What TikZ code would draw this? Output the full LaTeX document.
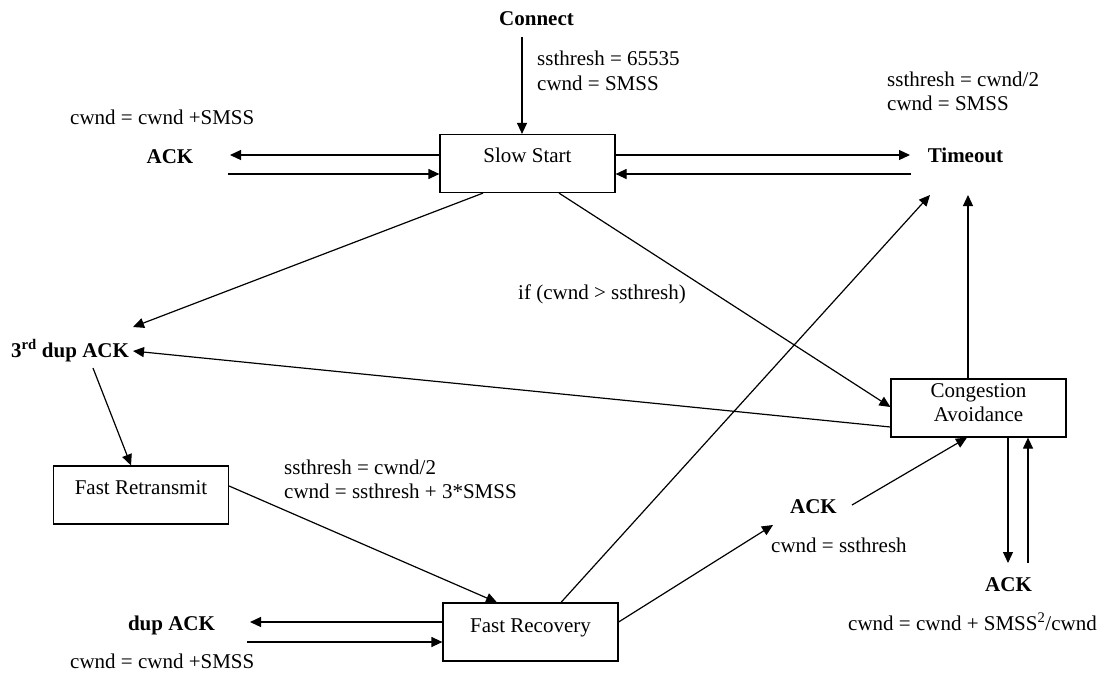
\documentclass[tikz,border=0pt]{standalone}
\usepackage{fontspec}
\setmainfont{Liberation Serif}
\usetikzlibrary{arrows.meta,calc}
\begin{document}
\begin{tikzpicture}[x=1pt,y=-1pt,
  every node/.style={font=\fontsize{21pt}{24pt}\selectfont, inner sep=0pt},
  state/.style={draw, line width=1.2pt, minimum width=175pt, minimum height=58pt},
  tx/.style={text height=14pt, text depth=0pt},
  event/.style={tx, font=\fontsize{21pt}{24pt}\selectfont\bfseries},
  note/.style={anchor=west, align=left},
  arr/.style={line width=1.2pt, -{Triangle[length=11pt,width=10pt]}}
]
\useasboundingbox (0,0) rectangle (1106,673);

% states
\node[state] (ss)  at (527.5,163.5) {};
\node[state] (ca)  at (978.5,408) {};
\node[state] (frt) at (141,495) {};
\node[state] (frc) at (530.5,632) {};
\node[tx] (ssT)  at (527.5,155) {Slow Start};
\node[align=center] (caT) at (978.5,403) {Congestion\\Avoidance};
\node[tx] (frtT) at (141,487) {Fast Retransmit};
\node[tx] (frcT) at (530.5,625) {Fast Recovery};

% events
\node[event] (connect) at (536.5,18) {Connect};
\node[event] (ackL)    at (170,156) {ACK};
\node[event] (timeout) at (965.5,155) {Timeout};
\node[event] (third)   at (70,350) {3\textsuperscript{rd} dup ACK};
\node[event] (dupack)  at (171.5,623) {dup ACK};
\node[event] (ackM)    at (813.5,506) {ACK};
\node[event] (ackR)    at (1008.5,584) {ACK};

% annotations
\node[note] (n1) at (537,70.5) {ssthresh = 65535\\[1pt]cwnd = SMSS};
\node[note,tx] (n2) at (70,117) {cwnd = cwnd +SMSS};
\node[note] (n3) at (887,91) {ssthresh = cwnd/2\\cwnd = SMSS};
\node[note,tx] (n4) at (518,292) {if (cwnd > ssthresh)};
\node[note] (n5) at (284,479) {ssthresh = cwnd/2\\cwnd = ssthresh + 3*SMSS};
\node[note,tx] (n6) at (771,545) {cwnd = ssthresh};
\node[note,tx] (n7) at (848,623) {cwnd = cwnd + SMSS\textsuperscript{2}/cwnd};
\node[note,tx] (n8) at (70,661) {cwnd = cwnd +SMSS};

% transitions
\draw[arr] ($(connect)+(-14.5,19)$) -- ($(ss.north)+(-5.5,0)$);
\draw[arr] ($(ss.west)+(0,-8.5)$) -- ($(ackL)+(60,-1)$);
\draw[arr] ($(ackL)+(58,18)$) -- ($(ss.west)+(0,10.5)$);
\draw[arr] ($(ss.east)+(0,-8.5)$) -- ($(timeout)+(-55.5,0)$);
\draw[arr] ($(timeout)+(-54.5,19)$) -- ($(ss.east)+(0,10.5)$);
\draw[arr] ($(ss.south)+(-44.5,0)$) -- ($(third)+(63,-23)$);
\draw[arr] ($(ss.south)+(31.5,0)$) -- ($(ca.west)+(0,-1)$);
\draw[arr] ($(ca.west)+(0,19)$) -- ($(third)+(63,1)$);
\draw[arr] ($(third)+(23,18)$) -- ($(frt.north)+(-10,0)$);
\draw[arr] ($(frt.east)+(0,-9)$) -- ($(frc.north)+(-33.5,0)$);
\draw[arr] ($(frc.west)+(0,-10)$) -- ($(dupack)+(78.5,-1)$);
\draw[arr] ($(dupack)+(75.5,19)$) -- ($(frc.west)+(0,10)$);
\draw[arr] ($(frc.north)+(30.5,0)$) -- ($(timeout)+(-35.5,40)$);
\draw[arr] ($(ca.north)+(-10.5,0)$) -- ($(timeout)+(2.5,40)$);
\draw[arr] ($(frc.east)+(0,-10)$) -- ($(ackM)+(-40.5,19)$);
\draw[arr] ($(ackM)+(38.5,-1)$) -- ($(ca.south)+(-11.5,0)$);
\draw[arr] ($(ca.south)+(29.5,0)$) -- ($(ackR)+(-0.5,-21)$);
\draw[arr] ($(ackR)+(19.5,-21)$) -- ($(ca.south)+(49.5,0)$);
\end{tikzpicture}
\end{document}
